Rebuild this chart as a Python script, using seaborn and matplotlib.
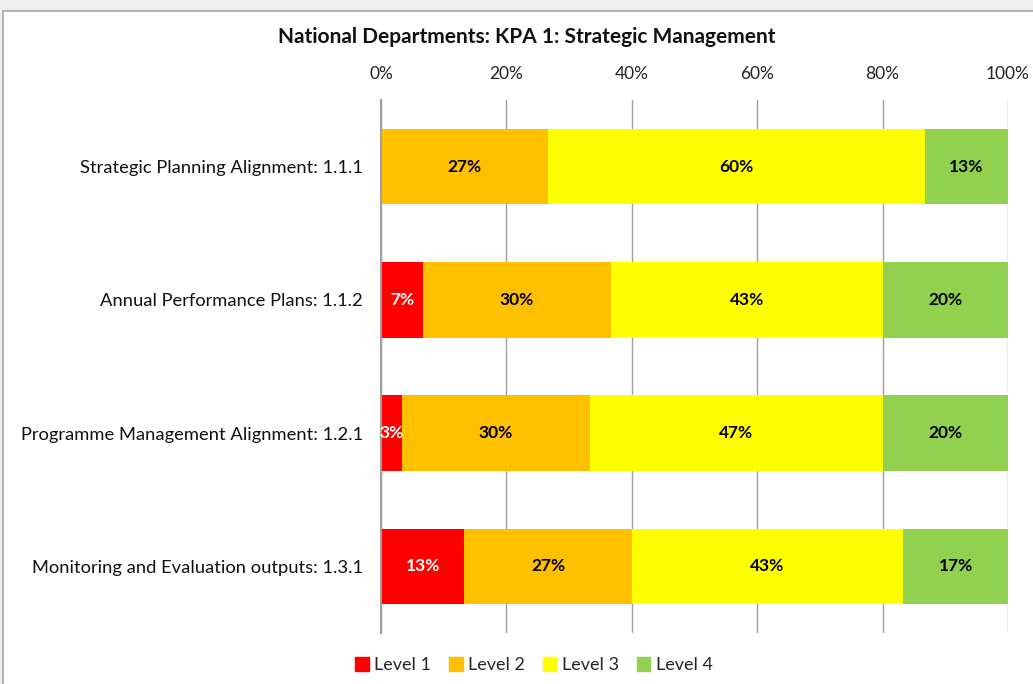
import matplotlib
matplotlib.use("Agg")
import matplotlib.pyplot as plt
import matplotlib.patches as mpatches
import numpy as np
import pandas as pd
import seaborn as sns

# ---- data (percent of departments) ----
categories = [
    "Strategic Planning Alignment: 1.1.1",
    "Annual Performance Plans: 1.1.2",
    "Programme Management Alignment: 1.2.1",
    "Monitoring and Evaluation outputs: 1.3.1",
]
levels = ["Level 1", "Level 2", "Level 3", "Level 4"]
level1 = [0.0, 6.7, 3.3, 13.3]
level2 = [26.7, 30.0, 30.0, 26.7]
level3 = [60.0, 43.3, 46.7, 43.3]
level4 = [13.3, 20.0, 20.0, 16.7]

colors = ["#FF0000", "#FFC000", "#FFFF00", "#92D050"]
text_colors = ["white", "black", "black", "black"]

sns.set_style("white")
plt.rcParams["font.family"] = ["Lato", "DejaVu Sans"]

series = [level1, level2, level3, level4]
df = pd.DataFrame({"Category": categories})
for name, vals in zip(levels, series):
    df[name] = vals
cum = df[levels].cumsum(axis=1)

fig = plt.figure(figsize=(10.33, 6.84), dpi=100)
fig.patch.set_facecolor("#eeeeee")
# chart frame (behind everything)
fig.patches.append(mpatches.Rectangle((3 / 1033, -0.1), 1.2, (684 - 11) / 684 + 0.1,
                                      transform=fig.transFigure, facecolor="white",
                                      edgecolor="#a6a6a6", lw=1.2, zorder=-10))

ax = fig.add_axes([381 / 1033, 51 / 684, 627 / 1033, 533 / 684])
ax.set_zorder(1)
ax.set_facecolor("none")

# stacked bars: draw cumulative totals from back to front
for i in reversed(range(len(levels))):
    sns.barplot(data=cum, x=levels[i], y=df["Category"], color=colors[i],
                orient="h", width=0.567, saturation=1, ax=ax, zorder=2,
                linewidth=0, legend=False)

# value labels
for j, cat in enumerate(categories):
    left = 0
    for i, vals in enumerate(series):
        v = vals[j]
        if v > 0:
            ax.text(left + v / 2, j, f"{v:.0f}%", ha="center", va="center",
                    color=text_colors[i], fontsize=12.5, fontweight="bold", zorder=5)
        left += v

ax.set_xlim(0, 100)
ax.set_ylim(3.5, -0.5)
ax.set_xticks(np.arange(0, 101, 20))
ax.set_xticklabels([f"{t}%" for t in range(0, 101, 20)])
ax.xaxis.tick_top()
ax.tick_params(axis="x", length=0, pad=13, labelsize=12.5, labelcolor="#222222")
ax.tick_params(axis="y", length=0, pad=13, labelsize=13.2, labelcolor="#111111")
ax.set_xlabel("")
ax.set_ylabel("")
ax.grid(axis="x", color="#a0a0a0", lw=1, zorder=0)
ax.set_axisbelow(True)
for s in ["top", "right", "bottom"]:
    ax.spines[s].set_visible(False)
ax.spines["left"].set_color("#a0a0a0")
ax.spines["left"].set_linewidth(1.5)

fig.text(527 / 1033, 1 - 37 / 684, "National Departments: KPA 1: Strategic Management",
         ha="center", va="center", fontsize=15, fontweight="bold", color="#111111")

handles = [mpatches.Patch(color=c, label=l) for c, l in zip(colors, levels)]
fig.legend(handles=handles, loc="center", bbox_to_anchor=(534 / 1033, 1 - 665 / 684),
           ncol=4, frameon=False, fontsize=13, handlelength=0.75, handleheight=0.8,
           handletextpad=0.3, columnspacing=1.0)

fig.savefig("out.png", dpi=100)
